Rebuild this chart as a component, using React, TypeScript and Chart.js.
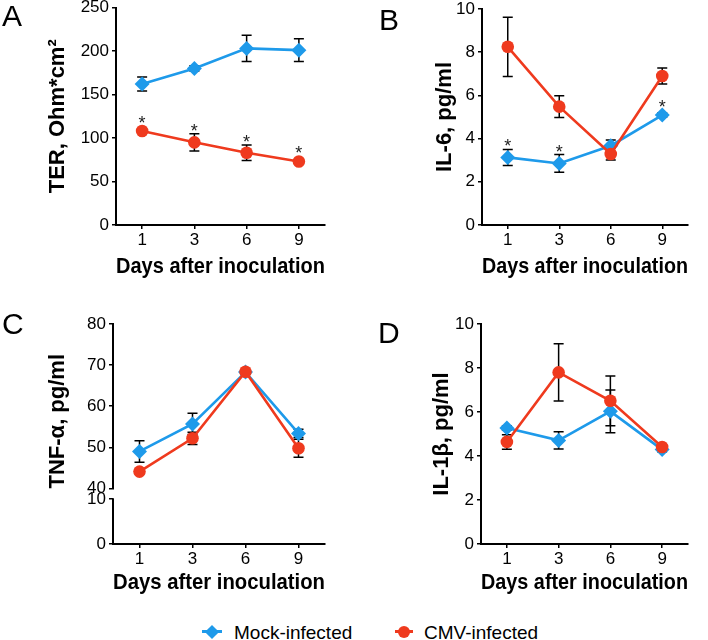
import React, { useEffect, useRef } from 'react';
import { Chart, registerables } from 'chart.js';
Chart.register(...registerables);

const FONT = '"Liberation Sans", Arial, Helvetica, sans-serif';
const BLUE = '#1E9AEA';
const RED = '#EF3A1E';
const INK = '#000000';

const days = ['1', '3', '6', '9'];
const seriesNames = ['Mock-infected', 'CMV-infected'];
const xTitle = 'Days after inoculation';

// Panel A: TER
const terMock = [162, 180, 203, 201];
const terMockErr = [8, 3, 15, 13];
const terCmv = [108, 95, 83, 73];
const terCmvErr = [2, 10, 9, 2];
const terCmvStar = [true, true, true, true];

// Panel B: IL-6
const il6Mock = [3.13, 2.85, 3.67, 5.09];
const il6MockErr = [0.37, 0.41, 0.27, 0.1];
const il6MockStar = [true, true, false, true];
const il6Cmv = [8.25, 5.48, 3.29, 6.9];
const il6CmvErr = [1.37, 0.5, 0.28, 0.37];

// Panel C: TNF-alpha (broken axis)
const tnfMock = [49.0, 55.7, 68.3, 53.4];
const tnfMockErr = [2.6, 2.6, 0.5, 1.0];
const tnfCmv = [44.1, 52.2, 68.4, 49.8];
const tnfCmvErr = [0.5, 1.5, 0.5, 2.2];
const tnfLowerTicks = [0, 10];

// Panel D: IL-1beta
const il1bMock = [5.27, 4.71, 6.03, 4.29];
const il1bMockErr = [0.1, 0.39, 0.97, 0.1];
const il1bCmv = [4.64, 7.8, 6.51, 4.41];
const il1bCmvErr = [0.33, 1.3, 1.13, 0.1];

Chart.defaults.font.family = FONT;
Chart.defaults.color = INK;

type Area = { l: number; r: number; t: number; b: number };

function errorBarPlugin(errs: number[][]) {
  return {
    id: 'errbars',
    beforeDatasetsDraw(chart: any) {
      const ctx = chart.ctx;
      ctx.save();
      ctx.strokeStyle = INK;
      ctx.lineWidth = 1.5;
      chart.data.datasets.forEach((ds: any, i: number) => {
        const e = errs[i];
        if (!e) return;
        const meta = chart.getDatasetMeta(i);
        const ys = chart.scales[meta.yAxisID];
        meta.data.forEach((pt: any, j: number) => {
          const v = ds.data[j];
          const x = pt.x;
          const y1 = ys.getPixelForValue(v + e[j]);
          const y2 = ys.getPixelForValue(v - e[j]);
          ctx.beginPath();
          ctx.moveTo(x, y1);
          ctx.lineTo(x, y2);
          ctx.moveTo(x - 5, y1);
          ctx.lineTo(x + 5, y1);
          ctx.moveTo(x - 5, y2);
          ctx.lineTo(x + 5, y2);
          ctx.stroke();
        });
      });
      ctx.restore();
    },
  };
}

function starPlugin(stars: (boolean[] | null)[], errs: number[][]) {
  return {
    id: 'stars',
    afterDatasetsDraw(chart: any) {
      const ctx = chart.ctx;
      ctx.save();
      ctx.font = `18px ${FONT}`;
      ctx.textAlign = 'center';
      ctx.textBaseline = 'alphabetic';
      ctx.fillStyle = '#222';
      chart.data.datasets.forEach((ds: any, i: number) => {
        const s = stars[i];
        if (!s) return;
        const meta = chart.getDatasetMeta(i);
        const ys = chart.scales[meta.yAxisID];
        meta.data.forEach((pt: any, j: number) => {
          if (!s[j]) return;
          const top = ys.getPixelForValue(ds.data[j] + errs[i][j]);
          const cy = Math.min(pt.y - 12, top - 7);
          ctx.fillText('*', pt.x, cy + 10);
        });
      });
      ctx.restore();
    },
  };
}

const lowerAxisLine = {
  id: 'lowerAxisLine',
  afterDraw(chart: any) {
    const s = chart.scales.yBot;
    if (!s) return;
    const ctx = chart.ctx;
    ctx.save();
    ctx.strokeStyle = INK;
    ctx.lineWidth = 2;
    ctx.beginPath();
    const x = Math.round(s.right);
    ctx.moveTo(x, s.getPixelForValue(tnfLowerTicks[tnfLowerTicks.length - 1]) - 0.75);
    ctx.lineTo(x, s.getPixelForValue(0) + 1);
    ctx.stroke();
    ctx.restore();
  },
};

function baseY(area: Area, title: string, titleCx: number, extra: any) {
  return {
    type: 'linear',
    position: 'left',
    grid: { drawOnChartArea: false, drawTicks: true, tickLength: 4, color: INK, lineWidth: 1.5 },
    border: { display: true, color: INK, width: 2 },
    ticks: { font: { size: 17 }, color: INK, padding: 3 },
    title: {
      display: !!title,
      text: title,
      color: INK,
      font: { size: 22, weight: 'bold' },
      padding: { top: titleCx - 13.2, bottom: 0 },
    },
    afterFit: (s: any) => {
      s.width = area.l;
      s.paddingTop = 0;
      s.paddingBottom = 0;
    },
    ...extra,
  };
}

function buildConfig(o: {
  W: number;
  H: number;
  area: Area;
  xTitleCy: number;
  mock: number[];
  cmv: number[];
  errs: number[][];
  stars: (boolean[] | null)[];
  yScales: Record<string, any>;
  yId: string;
  plugins?: any[];
}) {
  const { W, H, area } = o;
  return {
    type: 'line',
    data: {
      labels: days,
      datasets: [
        {
          label: seriesNames[0],
          data: o.mock,
          yAxisID: o.yId,
          borderColor: BLUE,
          backgroundColor: BLUE,
          borderWidth: 2.6,
          pointStyle: 'rectRot',
          pointRadius: 7.5,
          pointBorderWidth: 0,
          pointBackgroundColor: BLUE,
          order: 1,
        },
        {
          label: seriesNames[1],
          data: o.cmv,
          yAxisID: o.yId,
          borderColor: RED,
          backgroundColor: RED,
          borderWidth: 2.6,
          pointStyle: 'circle',
          pointRadius: 6.3,
          pointBorderWidth: 0,
          pointBackgroundColor: RED,
          order: 0,
        },
      ],
    },
    options: {
      responsive: false,
      maintainAspectRatio: false,
      animation: false,
      devicePixelRatio: 1,
      layout: { padding: { left: 0, top: area.t, right: W - area.r, bottom: 0 } },
      plugins: { legend: { display: false }, tooltip: { enabled: false } },
      scales: {
        x: {
          type: 'category',
          offset: true,
          grid: { offset: false, drawOnChartArea: false, drawTicks: true, tickLength: 4, color: INK, lineWidth: 1.5 },
          border: { display: true, color: INK, width: 2 },
          ticks: { font: { size: 17 }, color: INK, padding: 1, maxRotation: 0, autoSkip: false },
          title: {
            display: true,
            text: xTitle,
            color: INK,
            font: { size: 22, weight: 'bold' },
            padding: { top: 0, bottom: H - o.xTitleCy - 13.2 },
          },
          afterFit: (s: any) => {
            s.height = H - area.b;
            s.paddingLeft = 0;
            s.paddingRight = 0;
          },
        },
        ...o.yScales,
      },
    },
    plugins: [errorBarPlugin(o.errs), starPlugin(o.stars, o.errs), ...(o.plugins || [])],
  };
}

function ChartBox(props: { x: number; y: number; w: number; h: number; make: () => any }) {
  const ref = useRef<HTMLCanvasElement>(null);
  useEffect(() => {
    const chart = new Chart(ref.current as HTMLCanvasElement, props.make());
    return () => chart.destroy();
  }, []);
  return (
    <div style={{ position: 'absolute', left: props.x, top: props.y, width: props.w, height: props.h }}>
      <canvas ref={ref} width={props.w} height={props.h} style={{ display: 'block', width: props.w, height: props.h }} />
    </div>
  );
}

const areaA: Area = { l: 116, r: 325, t: 5, b: 225 };
const areaB: Area = { l: 128, r: 334, t: 9, b: 225 };
const areaC: Area = { l: 113, r: 325, t: 24, b: 244 };
const areaD: Area = { l: 127, r: 334, t: 24, b: 244 };

const makeA = () =>
  buildConfig({
    W: 354, H: 300, area: areaA, xTitleCy: 267,
    mock: terMock, cmv: terCmv, errs: [terMockErr, terCmvErr], stars: [null, terCmvStar],
    yId: 'y',
    yScales: { y: baseY(areaA, 'TER, Ohm*cm²', 58, { min: 0, max: 250, ticks: { font: { size: 17 }, color: INK, padding: 3, stepSize: 50 } }) },
  });

const makeB = () =>
  buildConfig({
    W: 354, H: 300, area: areaB, xTitleCy: 267,
    mock: il6Mock, cmv: il6Cmv, errs: [il6MockErr, il6CmvErr], stars: [il6MockStar, null],
    yId: 'y',
    yScales: { y: baseY(areaB, 'IL-6, pg/ml', 90.7, { min: 0, max: 10, ticks: { font: { size: 17 }, color: INK, padding: 3, stepSize: 2 } }) },
  });

const makeC = () => {
  const upperH = 164.7;
  const lowerH = 55.6;
  const lowerMax = 10 + 10.6 / 4.5;
  const yTop = baseY(areaC, 'TNF-α, pg/ml', 58, {
    min: 40, max: 80, stack: 'tnf', stackWeight: upperH,
    ticks: { font: { size: 17 }, color: INK, padding: 3, stepSize: 10 },
  });
  yTop.title.align = 'start';
  const yBot = baseY(areaC, '', 58, {
    min: 0, max: lowerMax, stack: 'tnf', stackWeight: lowerH,
    border: { display: false },
    ticks: { font: { size: 17 }, color: INK, padding: 3 },
    afterBuildTicks: (s: any) => {
      s.ticks = tnfLowerTicks.map((v) => ({ value: v }));
    },
  });
  return buildConfig({
    W: 354, H: 300, area: areaC, xTitleCy: 283,
    mock: tnfMock, cmv: tnfCmv, errs: [tnfMockErr, tnfCmvErr], stars: [null, null],
    yId: 'yTop',
    yScales: { yBot, yTop },
    plugins: [lowerAxisLine],
  });
};

const makeD = () =>
  buildConfig({
    W: 354, H: 300, area: areaD, xTitleCy: 283,
    mock: il1bMock, cmv: il1bCmv, errs: [il1bMockErr, il1bCmvErr], stars: [null, null],
    yId: 'y',
    yScales: { y: baseY(areaD, 'IL-1β, pg/ml', 88, { min: 0, max: 10, ticks: { font: { size: 17 }, color: INK, padding: 3, stepSize: 2 } }) },
  });

const panelLabel = (text: string, left: number, top: number) => (
  <div
    key={text}
    style={{ position: 'absolute', left, top, fontFamily: FONT, fontSize: 30, lineHeight: '30px', color: INK }}
  >
    {text}
  </div>
);

export default function App() {
  return (
    <div style={{ position: 'absolute', left: 0, top: 0, width: 708, height: 640, background: '#fff', overflow: 'hidden' }}>
      <ChartBox x={0} y={0} w={354} h={300} make={makeA} />
      <ChartBox x={354} y={0} w={354} h={300} make={makeB} />
      <ChartBox x={0} y={300} w={354} h={300} make={makeC} />
      <ChartBox x={354} y={300} w={354} h={300} make={makeD} />
      {panelLabel('A', 2, 1)}
      {panelLabel('B', 379, 5)}
      {panelLabel('C', 2, 309)}
      {panelLabel('D', 378, 318)}
      {/* legend */}
      <div style={{ position: 'absolute', left: 202, top: 630, width: 20, height: 3, background: BLUE }} />
      <div style={{ position: 'absolute', left: 207, top: 626.5, width: 10, height: 10, background: BLUE, transform: 'rotate(45deg)' }} />
      <div style={{ position: 'absolute', left: 234, top: 623, fontFamily: FONT, fontSize: 19, lineHeight: '19px', color: INK, whiteSpace: 'nowrap' }}>
        {seriesNames[0]}
      </div>
      <div style={{ position: 'absolute', left: 395, top: 630, width: 18, height: 3, background: RED }} />
      <div style={{ position: 'absolute', left: 398, top: 625.5, width: 12, height: 12, background: RED, borderRadius: '50%' }} />
      <div style={{ position: 'absolute', left: 424, top: 623, fontFamily: FONT, fontSize: 19, lineHeight: '19px', color: INK, whiteSpace: 'nowrap' }}>
        {seriesNames[1]}
      </div>
    </div>
  );
}
